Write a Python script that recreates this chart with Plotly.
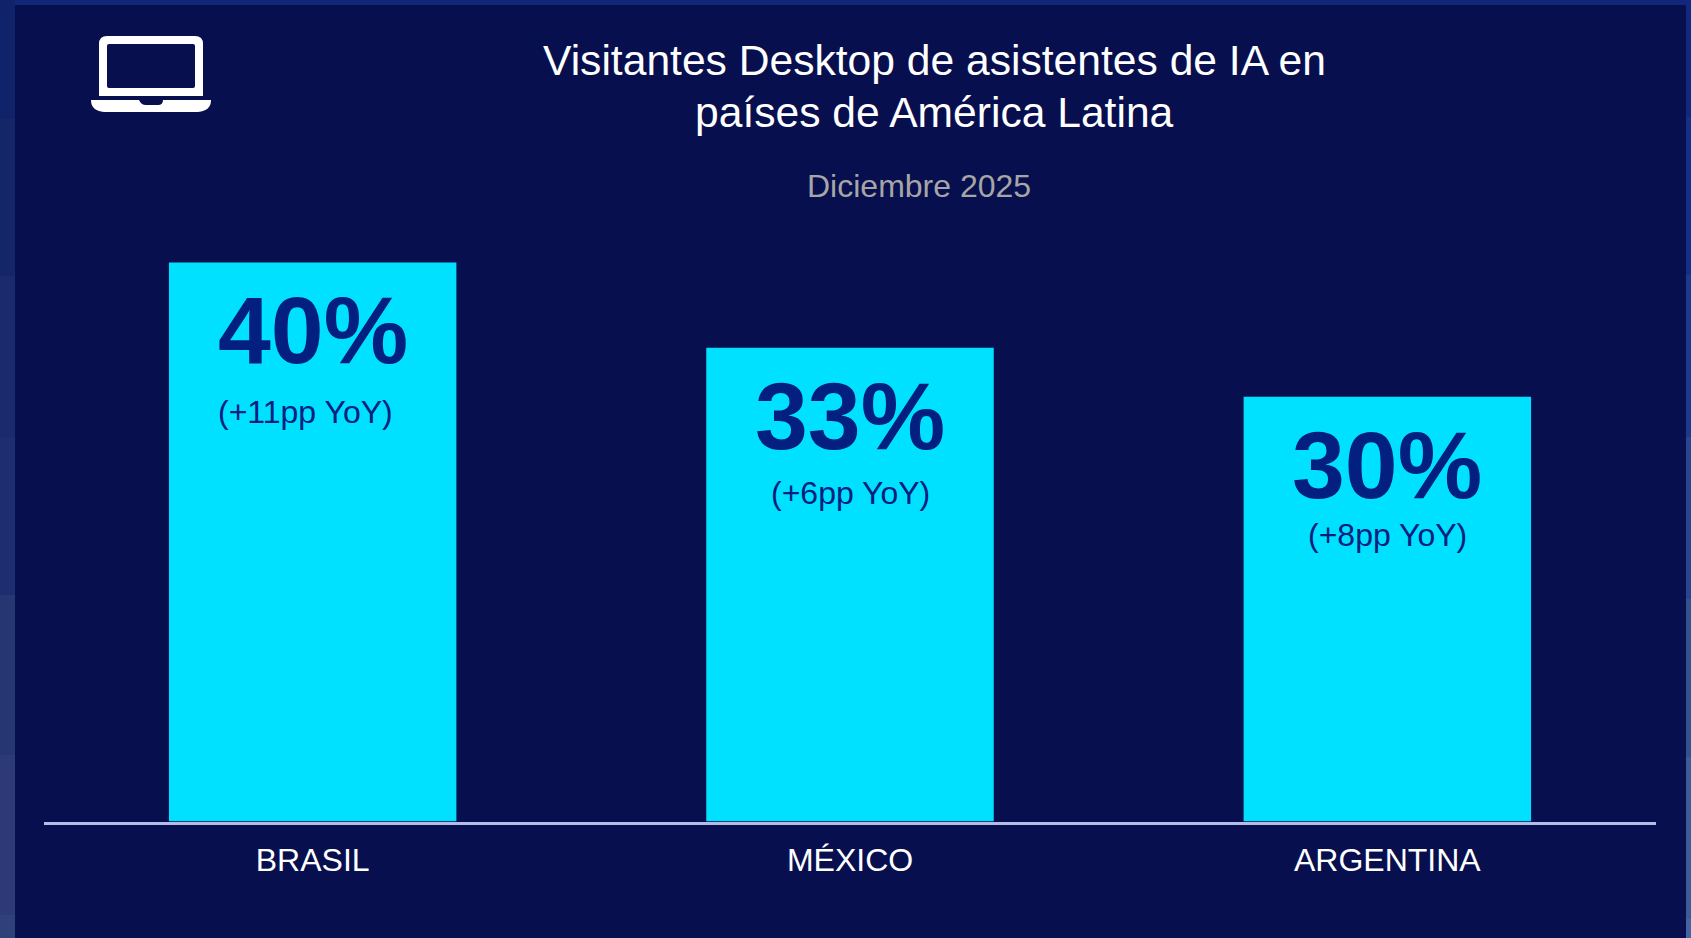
import plotly.graph_objects as go

categories = ["BRASIL", "MÉXICO", "ARGENTINA"]
values = [40.0, 33.9, 30.4]
value_labels = ["40%", "33%", "30%"]
change_labels = ["(+11pp YoY)", "(+6pp YoY)", "(+8pp YoY)"]
title_lines = ["Visitantes Desktop de asistentes de IA en", "países de América Latina"]
subtitle = "Diciembre 2025"

W, H = 1691, 938
BG = "#070F4E"
BAR = "#00E1FF"
DARK = "#03207F"
FONT = "Liberation Sans, Arial, sans-serif"

def px(x): return x / W
def py(y): return 1 - y / H

def path(cmds):
    out = []
    for c in cmds:
        if len(c) == 1:
            out.append(c[0])
        else:
            pts = c[1:]
            s = " ".join(f"{px(pts[i]):.5f},{py(pts[i+1]):.5f}" for i in range(0, len(pts), 2))
            out.append(c[0] + s)
    return " ".join(out)

shapes = []
def rect(x0, y0, x1, y1, color):
    shapes.append(dict(type="rect", xref="paper", yref="paper", x0=px(x0), x1=px(x1),
                       y0=py(y1), y1=py(y0), fillcolor=color, line_width=0, layer="below"))

rect(0, 0, W, H, BG)
rect(0, 0, W, 5, "#10277A")
for (a, b, c) in [(0,119,"#10236A"),(119,276,"#142668"),(276,437,"#1A2A6C"),(437,595,"#1E2D70"),
                  (595,755,"#263673"),(755,915,"#2C3B78"),(915,938,"#2E4279")]:
    rect(0, a, 15, b, c)
for (a, b, c) in [(0,117,"#10297F"),(117,275,"#123088"),(275,437,"#1C3A8C"),(437,599,"#28468F"),
                  (599,757,"#33518F"),(757,919,"#3D5B98"),(919,938,"#4264A0")]:
    rect(1686, a, W, b, c)

# laptop icon
shapes.append(dict(type="path", xref="paper", yref="paper", fillcolor="white", line_width=0, layer="above",
    path=path([("M",99,96),("L",99,44),("Q",99,36,107,36),("L",195,36),("Q",203,36,203,44),("L",203,96),("Z",)])))
shapes.append(dict(type="path", xref="paper", yref="paper", fillcolor=BG, line_width=0, layer="above",
    path=path([("M",107,86),("L",107,46),("Q",107,44,109,44),("L",193,44),("Q",195,44,195,46),("L",195,86),
               ("Q",195,88,193,88),("L",109,88),("Q",107,88,107,86),("Z",)])))
shapes.append(dict(type="path", xref="paper", yref="paper", fillcolor="white", line_width=0, layer="above",
    path=path([("M",91,100),("L",139,100),("Q",141,105,146,105),("L",158,105),("Q",163,105,163,100),("L",211,100),
               ("Q",211,111,198,112),("L",104,112),("Q",91,111,91,100),("Z",)])))

fig = go.Figure(go.Bar(x=categories, y=values, width=0.535, marker=dict(color=BAR, line_width=0),
                       hoverinfo="skip"))

annotations = []
for i, (cat, val) in enumerate(zip(categories, values)):
    annotations.append(dict(x=cat, y=val, xref="x", yref="y", text=f"<b>{value_labels[i]}</b>",
                            showarrow=False, yanchor="middle", yshift=-68,
                            font=dict(family=FONT, size=95, color=DARK)))
    annotations.append(dict(x=cat, y=val, xref="x", yref="y", text=change_labels[i],
                            showarrow=False, yanchor="middle", xshift=[-7, 0, 0][i],
                            yshift=[-150, -145, -138][i],
                            font=dict(family=FONT, size=32, color=DARK)))
annotations.append(dict(x=px(934), y=py(34), xref="paper", yref="paper", text=title_lines[0], showarrow=False,
                        font=dict(family=FONT, size=42.6, color="white")))
annotations.append(dict(x=px(934), y=py(86), xref="paper", yref="paper", text=title_lines[1], showarrow=False,
                        font=dict(family=FONT, size=42.6, color="white")))
annotations.append(dict(x=px(919), y=py(166), xref="paper", yref="paper", text=subtitle, showarrow=False,
                        font=dict(family=FONT, size=32, color="#A6A6A6")))

fig.update_layout(
    width=W, height=H, margin=dict(l=0, r=0, t=0, b=0), autosize=False,
    paper_bgcolor=BG, plot_bgcolor="rgba(0,0,0,0)", showlegend=False,
    shapes=shapes, annotations=annotations, font=dict(family=FONT),
    xaxis=dict(domain=[px(44), px(1656)], range=[-0.5, 2.5], type="category", showline=True,
               linecolor="#B4BCE8", linewidth=3, ticks="", showgrid=False, zeroline=False,
               tickfont=dict(family=FONT, size=32, color="white"), anchor="y", ticklabelstandoff=8),
    yaxis=dict(domain=[1 - 821.5 / H, 1 - 192.6 / H], range=[0, 45], visible=False),
)

fig.write_html("out.html", post_script="document.body.style.margin='0';", config=dict(displayModeBar=False))
